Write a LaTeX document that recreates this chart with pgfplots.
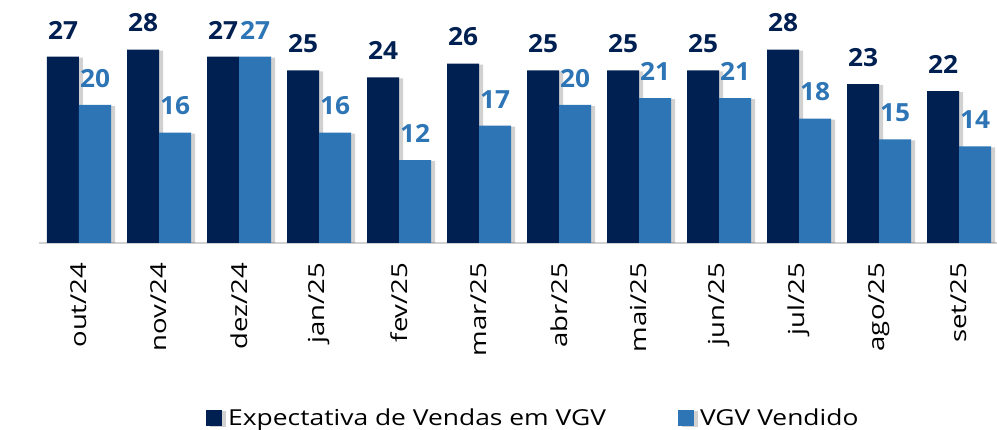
\documentclass[border=0pt]{standalone}
\usepackage{pgfplots}
\pgfplotsset{compat=1.18}
\usepackage{fontspec}
\setmainfont{Open Sans}
\newfontfamily\widefont[FakeStretch=1.25]{Open Sans}
\newfontfamily\legfont[FakeStretch=1.2]{Open Sans}
\newfontfamily\labfont[FakeStretch=1.05]{Open Sans}
\usetikzlibrary{shadows}
\definecolor{navy}{HTML}{002052}
\definecolor{lblue}{HTML}{2E75B6}
\begin{document}
\begin{tikzpicture}[x=1pt,y=1pt]
\path[use as bounding box] (-39,-187) rectangle (958,243);
\begin{axis}[
  at={(0,0)}, anchor=south west,
  scale only axis, width=958pt, height=243pt,
  xmin=-0.5, xmax=11.475, ymin=0, ymax=35.2,
  ybar=0pt, bar width=32pt,
  axis x line*=bottom, axis y line=none,
  x axis line style={draw=black!18, line width=1.5pt, -},
  xtick={0,...,11},
  xticklabels={out/24,nov/24,dez/24,jan/25,fev/25,mar/25,abr/25,mai/25,jun/25,jul/25,ago/25,set/25},
  xtick style={draw=none},
  xticklabel shift=12pt,
  x tick label style={rotate=90, anchor=east, font=\widefont\fontsize{22}{24}\selectfont, text=black},
  ytick=\empty,
  /pgf/number format/assume math mode=true,
  nodes near coords,
  every node near coord/.append style={font=\labfont\bfseries\fontsize{25}{28}\selectfont, yshift=14pt},
  legend style={at={(0.516,-0.72)}, anchor=center, legend columns=2, draw=none, fill=none,
    font=\legfont\fontsize{22}{26}\selectfont,
    /tikz/every odd column/.append style={column sep=4pt},
    /tikz/every even column/.append style={column sep=70pt}},
  legend image code/.code={\fill[#1] (0pt,-8pt) rectangle (16pt,8pt);},
]
\addplot[fill=navy, draw=none, nodes near coords style={text=navy},
  drop shadow={shadow xshift=4pt, shadow yshift=-1pt, opacity=0.18, fill=black}]
  coordinates {(0,27) (1,28) (2,27) (3,25) (4,24) (5,26) (6,25) (7,25) (8,25) (9,28) (10,23) (11,22)};
\addplot[fill=lblue, draw=none, nodes near coords style={text=lblue},
  drop shadow={shadow xshift=4pt, shadow yshift=-1pt, opacity=0.18, fill=black}]
  coordinates {(0,20) (1,16) (2,27) (3,16) (4,12) (5,17) (6,20) (7,21) (8,21) (9,18) (10,15) (11,14)};
\legend{Expectativa de Vendas em VGV, VGV Vendido}
\end{axis}
\end{tikzpicture}
\end{document}
